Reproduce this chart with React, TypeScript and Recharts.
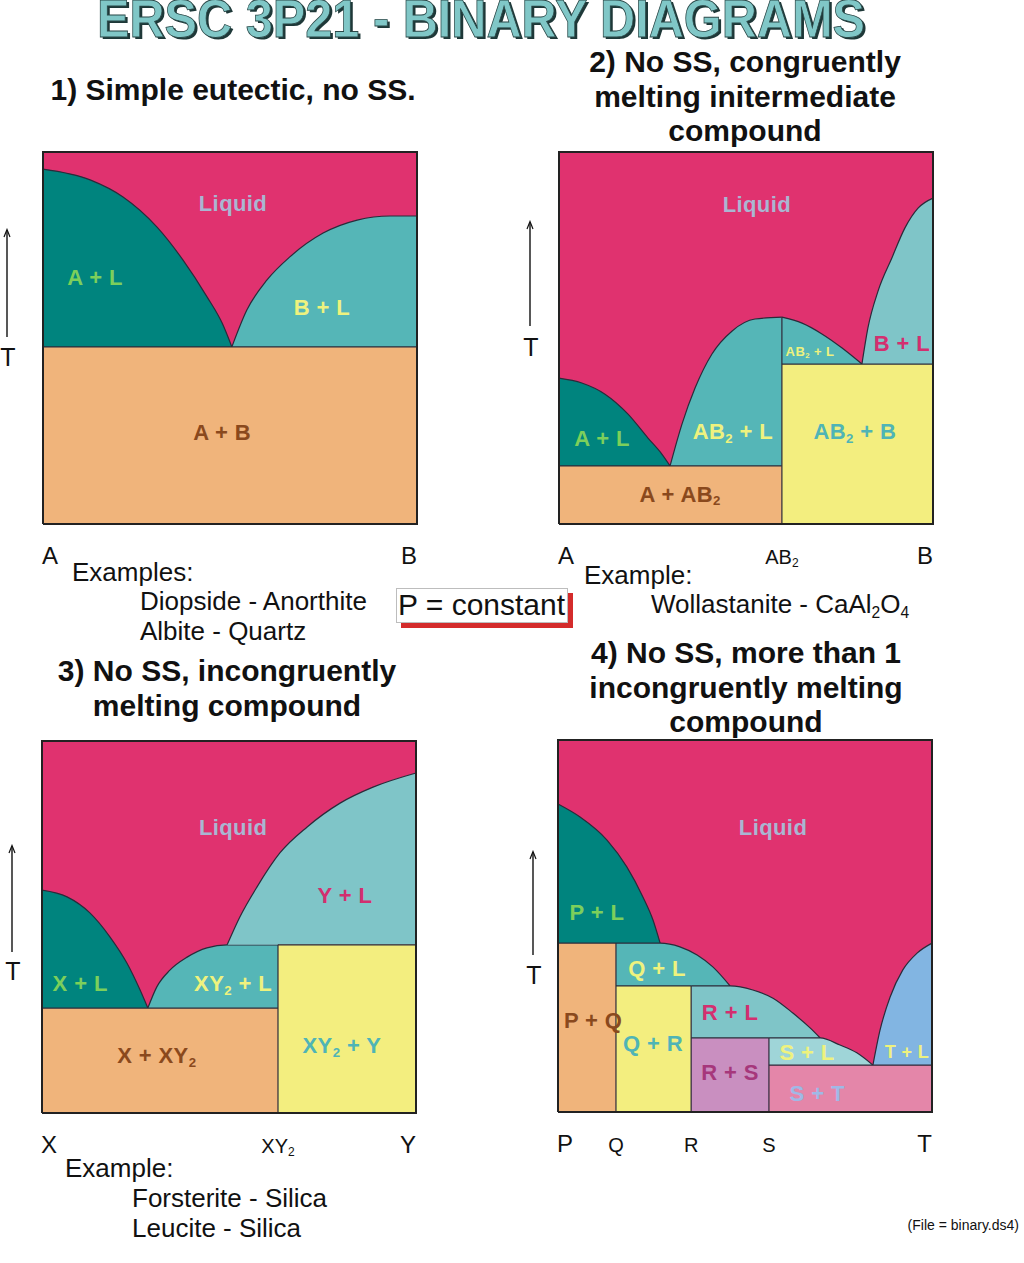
import React from "react";
import { ComposedChart, Area, Line, Scatter, XAxis, YAxis } from "recharts";

type Pt = { x: number; t: number };
type Tag = { x: number; t: number; text: string; tone: string };
type Tick = { x: number; label: string };

// composition (x, 0-100) vs temperature (t, 0-100)

// 1) simple eutectic
const d1LiquidusA: Pt[] = [
  { x: 0, t: 95.4 }, { x: 12.6, t: 92.5 }, { x: 21.4, t: 87.9 }, { x: 30.5, t: 79.8 },
  { x: 37.4, t: 71.0 }, { x: 43.9, t: 61.0 }, { x: 47.9, t: 54.0 }, { x: 50.5, t: 47.6 },
];
const d1LiquidusB: Pt[] = [
  { x: 50.5, t: 47.6 }, { x: 54.5, t: 57.5 }, { x: 59.9, t: 65.6 }, { x: 66.0, t: 71.8 },
  { x: 74.9, t: 78.2 }, { x: 84.0, t: 81.7 }, { x: 92.8, t: 82.8 }, { x: 100, t: 82.8 },
];
const d1SolidAB: Pt[] = [{ x: 0, t: 47.6 }, { x: 100, t: 47.6 }];
const d1Tags: Tag[] = [
  { x: 50.8, t: 86.3, text: "Liquid", tone: "liquid" },
  { x: 13.9, t: 66.4, text: "A + L", tone: "green" },
  { x: 74.6, t: 58.3, text: "B + L", tone: "yellow" },
  { x: 47.9, t: 24.7, text: "A + B", tone: "brown" },
];
const d1Ticks: Tick[] = [{ x: 0, label: "A" }, { x: 100, label: "B" }];

// 2) congruently melting AB2
const d2LiquidusA: Pt[] = [
  { x: 0, t: 39.2 }, { x: 6.1, t: 37.9 }, { x: 12.3, t: 34.9 }, { x: 18.4, t: 29.6 },
  { x: 23.8, t: 23.1 }, { x: 27.5, t: 18.8 }, { x: 29.7, t: 15.6 },
];
const d2LiquidusAB2Left: Pt[] = [
  { x: 29.7, t: 15.6 }, { x: 32.9, t: 26.9 }, { x: 36.4, t: 36.6 }, { x: 40.9, t: 45.7 },
  { x: 46.3, t: 51.9 }, { x: 52.4, t: 55.1 }, { x: 59.6, t: 55.6 },
];
const d2LiquidusAB2Right: Pt[] = [
  { x: 59.6, t: 55.6 }, { x: 65.0, t: 54.0 }, { x: 70.3, t: 51.1 }, { x: 75.7, t: 47.3 }, { x: 81.0, t: 43.0 },
];
const d2LiquidusB: Pt[] = [
  { x: 81.0, t: 43.0 }, { x: 82.6, t: 52.7 }, { x: 85.3, t: 62.6 }, { x: 89.0, t: 71.5 },
  { x: 92.5, t: 79.6 }, { x: 96.0, t: 84.9 }, { x: 100, t: 87.6 },
];
const d2SolidAAB2: Pt[] = [{ x: 0, t: 15.6 }, { x: 59.6, t: 15.6 }];
const d2SolidAB2B: Pt[] = [{ x: 59.6, t: 43.0 }, { x: 100, t: 43.0 }];
const d2Dividers: Pt[] = [{ x: 59.6, t: 55.6 }];
const d2Tags: Tag[] = [
  { x: 52.9, t: 86.0, text: "Liquid", tone: "liquid" },
  { x: 91.7, t: 48.7, text: "B + L", tone: "magenta" },
  { x: 67.1, t: 46.5, text: "AB_2 + L", tone: "small" },
  { x: 11.5, t: 23.1, text: "A + L", tone: "green" },
  { x: 46.5, t: 25.0, text: "AB_2 + L", tone: "yellow" },
  { x: 79.1, t: 25.0, text: "AB_2 + B", tone: "teal" },
  { x: 32.4, t: 8.1, text: "A + AB_2", tone: "brown" },
];
const d2Ticks: Tick[] = [{ x: 0, label: "A" }, { x: 59.6, label: "AB_2" }, { x: 100, label: "B" }];

// 3) incongruently melting XY2
const d3LiquidusX: Pt[] = [
  { x: 0, t: 59.9 }, { x: 6.7, t: 58.1 }, { x: 12.8, t: 53.8 }, { x: 18.2, t: 47.3 },
  { x: 22.7, t: 40.3 }, { x: 26.2, t: 33.1 }, { x: 28.3, t: 28.2 },
];
const d3LiquidusXY2: Pt[] = [
  { x: 28.3, t: 28.2 }, { x: 30.7, t: 33.9 }, { x: 34.2, t: 38.4 }, { x: 38.8, t: 41.9 },
  { x: 44.1, t: 44.4 }, { x: 49.5, t: 45.2 }, { x: 63.1, t: 45.2 },
];
const d3LiquidusY: Pt[] = [
  { x: 49.5, t: 45.2 }, { x: 52.9, t: 52.7 }, { x: 57.5, t: 60.8 }, { x: 63.6, t: 69.9 },
  { x: 70.9, t: 76.9 }, { x: 79.7, t: 83.3 }, { x: 88.5, t: 87.6 }, { x: 100, t: 91.4 },
];
const d3SolidXXY2: Pt[] = [{ x: 0, t: 28.2 }, { x: 63.1, t: 28.2 }];
const d3SolidXY2Y: Pt[] = [{ x: 63.1, t: 45.2 }, { x: 100, t: 45.2 }];
const d3Dividers: Pt[] = [{ x: 63.1, t: 45.2 }];
const d3Tags: Tag[] = [
  { x: 51.1, t: 76.9, text: "Liquid", tone: "liquid" },
  { x: 81.0, t: 58.6, text: "Y + L", tone: "magenta" },
  { x: 10.2, t: 34.9, text: "X + L", tone: "green" },
  { x: 51.1, t: 34.9, text: "XY_2 + L", tone: "yellow" },
  { x: 30.7, t: 15.6, text: "X + XY_2", tone: "brown" },
  { x: 80.2, t: 18.3, text: "XY_2 + Y", tone: "teal" },
];
const d3Ticks: Tick[] = [{ x: 0, label: "X" }, { x: 63.1, label: "XY_2" }, { x: 100, label: "Y" }];

// 4) several incongruently melting compounds
const d4LiquidusP: Pt[] = [
  { x: 0, t: 82.8 }, { x: 5.9, t: 79.3 }, { x: 13.1, t: 73.1 }, { x: 18.4, t: 65.9 },
  { x: 22.7, t: 57.8 }, { x: 25.4, t: 51.6 }, { x: 27.3, t: 45.4 },
];
const d4LiquidusQ: Pt[] = [
  { x: 15.5, t: 45.4 }, { x: 27.3, t: 45.4 }, { x: 32.6, t: 44.4 }, { x: 37.2, t: 42.2 },
  { x: 41.4, t: 39.0 }, { x: 46.0, t: 33.9 },
];
const d4LiquidusR: Pt[] = [
  { x: 35.6, t: 33.9 }, { x: 46.0, t: 33.9 }, { x: 52.1, t: 32.8 }, { x: 57.5, t: 30.6 },
  { x: 62.8, t: 26.6 }, { x: 67.4, t: 22.6 }, { x: 70.1, t: 19.9 },
];
const d4LiquidusS: Pt[] = [
  { x: 56.4, t: 19.9 }, { x: 70.1, t: 19.9 }, { x: 75.4, t: 18.0 }, { x: 79.9, t: 15.9 }, { x: 84.2, t: 12.6 },
];
const d4LiquidusT: Pt[] = [
  { x: 84.2, t: 12.6 }, { x: 86.1, t: 22.0 }, { x: 88.8, t: 30.9 }, { x: 92.2, t: 38.2 },
  { x: 96.0, t: 42.7 }, { x: 100, t: 45.4 },
];
const d4SolidPQ: Pt[] = [{ x: 0, t: 45.4 }, { x: 15.5, t: 45.4 }];
const d4SolidQR: Pt[] = [{ x: 15.5, t: 33.9 }, { x: 35.6, t: 33.9 }];
const d4SolidRS: Pt[] = [{ x: 35.6, t: 19.9 }, { x: 56.4, t: 19.9 }];
const d4SolidST: Pt[] = [{ x: 56.4, t: 12.6 }, { x: 100, t: 12.6 }];
const d4Dividers: Pt[] = [{ x: 15.5, t: 45.4 }, { x: 35.6, t: 33.9 }, { x: 56.4, t: 19.9 }];
const d4Tags: Tag[] = [
  { x: 57.5, t: 76.6, text: "Liquid", tone: "liquid" },
  { x: 10.4, t: 53.8, text: "P + L", tone: "green" },
  { x: 26.5, t: 38.7, text: "Q + L", tone: "yellow" },
  { x: 9.4, t: 24.7, text: "P + Q", tone: "brown" },
  { x: 46.0, t: 26.9, text: "R + L", tone: "magenta" },
  { x: 25.4, t: 18.5, text: "Q + R", tone: "teal" },
  { x: 46.0, t: 10.8, text: "R + S", tone: "plum" },
  { x: 66.6, t: 16.1, text: "S + L", tone: "yellow" },
  { x: 93.3, t: 16.1, text: "T + L", tone: "yellowSmall" },
  { x: 69.3, t: 5.1, text: "S + T", tone: "blue" },
];
const d4Ticks: Tick[] = [
  { x: 0, label: "P" }, { x: 15.5, label: "Q" }, { x: 35.6, label: "R" }, { x: 56.4, label: "S" }, { x: 100, label: "T" },
];

const frame: Pt[] = [{ x: 0, t: 100 }, { x: 100, t: 100 }];
const outline: Pt[] = [{ x: 0, t: 0 }, { x: 0, t: 100 }, { x: 100, t: 100 }, { x: 100, t: 0 }, { x: 0, t: 0 }];

const FONT = "'Liberation Sans', Arial, Helvetica, sans-serif";
const LIQUID = "#e0326f";
const DARK_TEAL = "#00847e";
const TEAL = "#55b6b7";
const LIGHT_TEAL = "#7fc5c8";
const PALE_TEAL = "#9fd5d8";
const ORANGE = "#f0b47b";
const YELLOW = "#f3ee7f";
const MAUVE = "#c98fc0";
const PINK = "#e486a9";
const SKY = "#82b5e2";
const EDGE = "#2b2b3a";

const TONES: Record<string, { fill: string; size: number }> = {
  liquid: { fill: "#a9b6d2", size: 22 },
  green: { fill: "#7ccf5b", size: 22 },
  yellow: { fill: "#eef27e", size: 22 },
  yellowSmall: { fill: "#eef27e", size: 18 },
  small: { fill: "#eef27e", size: 13 },
  brown: { fill: "#8a491d", size: 22 },
  magenta: { fill: "#d32f6f", size: 22 },
  teal: { fill: "#4fb4b6", size: 22 },
  plum: { fill: "#a6377b", size: 22 },
  blue: { fill: "#9fb9e6", size: 22 },
};

function rich(text: string, size: number) {
  const parts = text.split(/_(\d)/);
  const drop = size * 0.3;
  return parts.map((p, i) =>
    i % 2 === 1 ? (
      <tspan key={i} fontSize={size * 0.6} dy={drop}>{p}</tspan>
    ) : (
      <tspan key={i} dy={i > 0 ? -drop : 0}>{p}</tspan>
    )
  );
}

const renderTag = (props: any) => {
  const { cx, cy, payload } = props;
  const st = TONES[payload.tone];
  return (
    <text x={cx} y={cy} textAnchor="middle" dominantBaseline="central" fontFamily={FONT}
      fontWeight={700} fontSize={st.size} fill={st.fill} letterSpacing={0.4}>
      {rich(payload.text, st.size)}
    </text>
  );
};

type Region = { data: Pt[]; base: number; fill: string; curve?: boolean };

const W = 374;
const H = 372;

function Diagram({ left, top, regions, dividers, tags, ticks }: {
  left: number; top: number; regions: Region[]; dividers: Pt[]; tags: Tag[]; ticks: Tick[];
}) {
  const renderTick = (p: any) => {
    const v = p.payload.value;
    const lab = ticks.find((k) => k.x === v)?.label ?? "";
    const end = v === 0 || v === 100;
    const size = end ? 24 : 20;
    const anchor = v === 0 ? "start" : v === 100 ? "end" : "middle";
    return (
      <text x={p.x + (v === 0 ? -1 : 0)} y={p.y + (end ? 31 : 33)} textAnchor={anchor} dominantBaseline="central"
        fontFamily={FONT} fontSize={size} fill="#111">
        {rich(lab, size)}
      </text>
    );
  };
  return (
    <div style={{ position: "absolute", left: left - 2, top: top - 2 }}>
      <ComposedChart width={W + 4} height={H + 4 + 50} margin={{ top: 2, right: 2, bottom: 2, left: 2 }}>
        <XAxis type="number" dataKey="x" domain={[0, 100]} ticks={ticks.map((k) => k.x)} interval={0}
          axisLine={false} tickLine={false} tickSize={0} tickMargin={0} height={50} tick={renderTick} />
        <YAxis type="number" dataKey="t" domain={[0, 100]} hide />
        <Area data={frame} dataKey="t" baseValue={0} type="linear" fill={LIQUID} fillOpacity={1}
          stroke="none" isAnimationActive={false} dot={false} activeDot={false} />
        {regions.map((r, i) => (
          <Area key={i} data={r.data} dataKey="t" baseValue={r.base} type={r.curve ? "monotone" : "linear"}
            fill={r.fill} fillOpacity={1} stroke={EDGE} strokeWidth={1.2}
            isAnimationActive={false} dot={false} activeDot={false} />
        ))}
        {dividers.map((d, i) => (
          <Line key={"d" + i} data={[{ x: d.x, t: 0 }, { x: d.x, t: d.t }]} dataKey="t" type="linear"
            stroke={EDGE} strokeWidth={1.2} dot={false} activeDot={false} isAnimationActive={false} />
        ))}
        <Line data={outline} dataKey="t" type="linear" stroke="#222" strokeWidth={2}
          dot={false} activeDot={false} isAnimationActive={false} />
        <Scatter data={tags} dataKey="t" shape={renderTag} isAnimationActive={false} />
      </ComposedChart>
    </div>
  );
}

const Txt = ({ x, y, size, bold, anchor = "middle", children }: any) => {
  const tx = anchor === "middle" ? "-50%" : anchor === "end" ? "-100%" : "0";
  return (
    <div style={{
      position: "absolute", left: x, top: y, transform: `translate(${tx}, -50%)`, fontSize: size,
      fontWeight: bold ? 700 : 400, fontFamily: FONT, lineHeight: 1, whiteSpace: "nowrap", color: "#111",
    }}>{children}</div>
  );
};

const Sub = ({ children }: any) => (
  <span style={{ fontSize: "0.6em", position: "relative", top: "0.3em" }}>{children}</span>
);

const Arrow = ({ x, y1, y2, tY }: { x: number; y1: number; y2: number; tY: number }) => (
  <>
    <svg style={{ position: "absolute", left: x - 6, top: y1 - 2 }} width={12} height={y2 - y1 + 4}>
      <line x1={6} y1={2} x2={6} y2={y2 - y1 + 2} stroke="#111" strokeWidth={1.4} />
      <path d="M3 9 L6 1.5 L9 9" fill="none" stroke="#111" strokeWidth={1.2} />
    </svg>
    <Txt x={x + 1} y={tY} size={25}>T</Txt>
  </>
);

export default function App() {
  return (
    <div style={{ position: "absolute", left: 0, top: 0, width: 1024, height: 1263, background: "#fff", overflow: "hidden" }}>
      <svg style={{ position: "absolute", left: 0, top: 0 }} width={1024} height={46}>
        <text x={481} y={37} textAnchor="middle" fontFamily={FONT} fontSize={54} fontWeight={700}
          textLength={768} lengthAdjust="spacingAndGlyphs" fill="#1e3838" transform="translate(2.5,2)">
          ERSC 3P21 - BINARY DIAGRAMS
        </text>
        <text x={481} y={37} textAnchor="middle" fontFamily={FONT} fontSize={54} fontWeight={700}
          textLength={768} lengthAdjust="spacingAndGlyphs" fill="#80c7c7" stroke="#2a4848" strokeWidth={0.8}>
          ERSC 3P21 - BINARY DIAGRAMS
        </text>
      </svg>

      <Txt x={233} y={90} size={30} bold>1) Simple eutectic, no SS.</Txt>
      <Txt x={745} y={62} size={30} bold>2) No SS, congruently</Txt>
      <Txt x={745} y={97} size={30} bold>melting initermediate</Txt>
      <Txt x={745} y={131} size={30} bold>compound</Txt>
      <Txt x={227} y={671} size={30} bold>3) No SS, incongruently</Txt>
      <Txt x={227} y={706} size={30} bold>melting compound</Txt>
      <Txt x={746} y={653} size={30} bold>4) No SS, more than 1</Txt>
      <Txt x={746} y={688} size={30} bold>incongruently melting</Txt>
      <Txt x={746} y={722} size={30} bold>compound</Txt>

      <Arrow x={7} y1={230} y2={337} tY={357} />
      <Arrow x={530} y1={222} y2={326} tY={347} />
      <Arrow x={12} y1={846} y2={952} tY={971} />
      <Arrow x={533} y1={852} y2={955} tY={975} />

      <Diagram left={43} top={152}
        regions={[
          { data: d1LiquidusA, base: 47.6, fill: DARK_TEAL, curve: true },
          { data: d1LiquidusB, base: 47.6, fill: TEAL, curve: true },
          { data: d1SolidAB, base: 0, fill: ORANGE },
        ]}
        dividers={[]} tags={d1Tags} ticks={d1Ticks} />
      <Diagram left={559} top={152}
        regions={[
          { data: d2LiquidusA, base: 15.6, fill: DARK_TEAL, curve: true },
          { data: d2LiquidusAB2Left, base: 15.6, fill: TEAL, curve: true },
          { data: d2LiquidusAB2Right, base: 43.0, fill: TEAL, curve: true },
          { data: d2LiquidusB, base: 43.0, fill: LIGHT_TEAL, curve: true },
          { data: d2SolidAAB2, base: 0, fill: ORANGE },
          { data: d2SolidAB2B, base: 0, fill: YELLOW },
        ]}
        dividers={d2Dividers} tags={d2Tags} ticks={d2Ticks} />
      <Diagram left={42} top={741}
        regions={[
          { data: d3LiquidusX, base: 28.2, fill: DARK_TEAL, curve: true },
          { data: d3LiquidusXY2, base: 28.2, fill: TEAL, curve: true },
          { data: d3LiquidusY, base: 45.2, fill: LIGHT_TEAL, curve: true },
          { data: d3SolidXXY2, base: 0, fill: ORANGE },
          { data: d3SolidXY2Y, base: 0, fill: YELLOW },
        ]}
        dividers={d3Dividers} tags={d3Tags} ticks={d3Ticks} />
      <Diagram left={558} top={740}
        regions={[
          { data: d4LiquidusP, base: 45.4, fill: DARK_TEAL, curve: true },
          { data: d4LiquidusQ, base: 33.9, fill: TEAL, curve: true },
          { data: d4LiquidusR, base: 19.9, fill: LIGHT_TEAL, curve: true },
          { data: d4LiquidusS, base: 12.6, fill: PALE_TEAL, curve: true },
          { data: d4LiquidusT, base: 12.6, fill: SKY, curve: true },
          { data: d4SolidPQ, base: 0, fill: ORANGE },
          { data: d4SolidQR, base: 0, fill: YELLOW },
          { data: d4SolidRS, base: 0, fill: MAUVE },
          { data: d4SolidST, base: 0, fill: PINK },
        ]}
        dividers={d4Dividers} tags={d4Tags} ticks={d4Ticks} />

      <Txt x={72} y={572} size={26} anchor="start">Examples:</Txt>
      <Txt x={140} y={601} size={26} anchor="start">Diopside - Anorthite</Txt>
      <Txt x={140} y={631} size={26} anchor="start">Albite - Quartz</Txt>

      <div style={{ position: "absolute", left: 401, top: 593, width: 172, height: 35, background: "#d42b2b" }} />
      <div style={{ position: "absolute", left: 396, top: 588, width: 170, height: 33, background: "#fff", border: "1px solid #bdbdbd" }} />
      <Txt x={398} y={605} size={30} anchor="start">P = constant</Txt>

      <Txt x={584} y={575} size={26} anchor="start">Example:</Txt>
      <Txt x={651} y={604} size={26} anchor="start">Wollastanite - CaAl<Sub>2</Sub>O<Sub>4</Sub></Txt>

      <Txt x={65} y={1168} size={26} anchor="start">Example:</Txt>
      <Txt x={132} y={1198} size={26} anchor="start">Forsterite - Silica</Txt>
      <Txt x={132} y={1228} size={26} anchor="start">Leucite - Silica</Txt>

      <Txt x={1019} y={1225} size={14} anchor="end">(File = binary.ds4)</Txt>
    </div>
  );
}
